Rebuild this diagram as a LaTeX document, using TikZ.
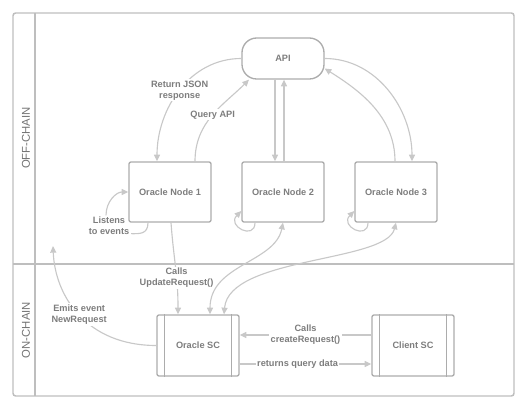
\documentclass[tikz,border=0pt]{standalone}
\usepackage{fontspec}
\setmainfont{Liberation Sans}
\usetikzlibrary{arrows.meta,calc}

\definecolor{framegray}{RGB}{190,190,190}
\definecolor{boxgray}{RGB}{172,172,172}
\definecolor{linegray}{RGB}{200,200,200}
\definecolor{textgray}{RGB}{125,125,125}
\definecolor{lanegray}{RGB}{115,115,115}

\tikzset{every picture/.style={line width=0.75pt}}

\begin{document}
\begin{tikzpicture}[x=0.75pt,y=0.75pt,yscale=-1,xscale=1,
  box/.style={draw=boxgray, line width=1pt, rounded corners=1.5pt, minimum width=61.5pt, minimum height=45pt, inner sep=0pt, text=textgray, font=\bfseries\fontsize{6.9}{8.2}\selectfont},
  apibox/.style={box, rounded corners=11pt, minimum height=30.75pt},
  scbox/.style={box, minimum height=45.75pt},
  lbl/.style={fill=white, inner sep=1pt, align=center, text=textgray, font=\bfseries\fontsize{6.9}{8.2}\selectfont},
  lanetext/.style={rotate=90, text=lanegray, font=\fontsize{8.5}{10}\selectfont},
  conn/.style={draw=linegray, line width=0.85pt, -{Triangle[length=5pt,width=4.5pt]}},
  biconn/.style={conn, {Triangle[length=5pt,width=4.5pt]}-{Triangle[length=5pt,width=4.5pt]}},
  plain/.style={draw=linegray, line width=0.85pt}]
\useasboundingbox (0,0) rectangle (525,409); %set diagram to 525 x 409

%Shape: Pool frame
\draw [draw=framegray, line width=1.1pt, rounded corners=2pt] (13,13) rectangle (514,396) ;
%Straight Lines: lane header
\draw [draw=framegray, line width=1.1pt] (35,13) -- (35,396) ;
%Straight Lines: lane divider
\draw [draw=framegray, line width=1.1pt] (13,264) -- (514,264) ;

%Shape: Terminator
\draw (283,58.5) node [apibox] (api) {API};
%Shape: Rectangle
\draw (170,192) node [box] (n1) {Oracle Node 1};
%Shape: Rectangle
\draw (283,192) node [box] (n2) {Oracle Node 2};
%Shape: Rectangle
\draw (396,192) node [box] (n3) {Oracle Node 3};
%Shape: Process
\draw (198,345.5) node [scbox] (osc) {Oracle SC};
\draw [draw=boxgray, line width=1pt] ($(osc.north west)+(8,0)$) -- ($(osc.south west)+(8,0)$) ;
\draw [draw=boxgray, line width=1pt] ($(osc.north east)+(-8,0)$) -- ($(osc.south east)+(-8,0)$) ;
%Shape: Process
\draw (413,345.5) node [scbox] (csc) {Client SC};
\draw [draw=boxgray, line width=1pt] ($(csc.north west)+(8,0)$) -- ($(csc.south west)+(8,0)$) ;
\draw [draw=boxgray, line width=1pt] ($(csc.north east)+(-8,0)$) -- ($(csc.south east)+(-8,0)$) ;

%Curve Lines: API to node 1
\draw [conn] (api.west) .. controls +(-52,0) and +(0,-52) .. ($(n1.north)+(-13,0)$) node [lbl, pos=0.5] (json) {Return JSON\\response} ;
%Curve Lines: node 1 to API
\draw [conn] ($(n1.north)+(25,0)$) .. controls +(0,-40) and +(-25,25) .. ($(api.south)+(-34,0)$) node [lbl, pos=0.5] (query) {Query API} ;
%Straight Lines: API and node 2
\draw [conn] ($(api.south)+(-8,0)$) -- ($(n2.north)+(-8,0)$) ;
\draw [conn] ($(n2.north)+(1,0)$) -- ($(api.south)+(1,0)$) ;
%Curve Lines: API and node 3
\draw [conn] (api.east) .. controls +(52,0) and +(0,-52) .. ($(n3.north)+(16,0)$) ;
\draw [conn] ($(n3.north)+(-1,0)$) .. controls +(0,-45) and +(35,22) .. ($(api.east)+(0,10)$) ;

% Text Node
\draw (109,226) node [lbl, fill=none] (listen) {Listens\\to events};
%Curve Lines: listens to events
\draw [plain] ($(n1.south)+(-22,0)$) .. controls +(0,12) and +(8,0) .. ($(listen.south east)+(0,-3)$) ;
\draw [conn] ($(listen.north)+(-3,0)$) .. controls +(0,-14) and +(-12,0) .. (n1.west) ;
%Curve Lines: self loops
\draw [conn] ($(n2.south)+(-28,0)$) .. controls +(0,18) and +(-15,15) .. ($(n2.west)+(0,19)$) ;
\draw [conn] ($(n3.south)+(-28,0)$) .. controls +(0,18) and +(-15,15) .. ($(n3.west)+(0,19)$) ;

%Curve Lines: node 1 to oracle SC
\draw [conn] ($(n1.south)+(1,0)$) .. controls +(3,40) and +(0,-40) .. ($(osc.north)+(-20,0)$) node [lbl, pos=0.62] (update) {Calls\\UpdateRequest()} ;
%Curve Lines: oracle SC and nodes
\draw [biconn] ($(osc.north)+(12,0)$) .. controls +(0,-50) and +(-8,40) .. (n2.south) ;
\draw [biconn] ($(osc.north)+(26,0)$) .. controls +(5,-58) and +(-10,40) .. (n3.south) ;

%Curve Lines: emits event
\coordinate (emit) at (53,246);
\draw [conn] (osc.west) .. controls +(-70,0) and +(2,50) .. (emit) node [lbl, pos=0.5] (newreq) {Emits event\\NewRequest} ;

%Straight Lines: client SC and oracle SC
\draw [conn] ($(csc.west)+(0,-10.5)$) -- ($(osc.east)+(0,-10.5)$) node [lbl, midway] (create) {Calls\\createRequest()} ;
\draw [conn] ($(osc.east)+(0,18.5)$) -- ($(csc.west)+(0,18.5)$) node [lbl, pos=0.44] (returns) {returns query data} ;

% Text Node
\draw (26,138) node [lanetext] (offchain) {OFF-CHAIN};
% Text Node
\draw (26,330) node [lanetext] (onchain) {ON-CHAIN};

\end{tikzpicture}
\end{document}
